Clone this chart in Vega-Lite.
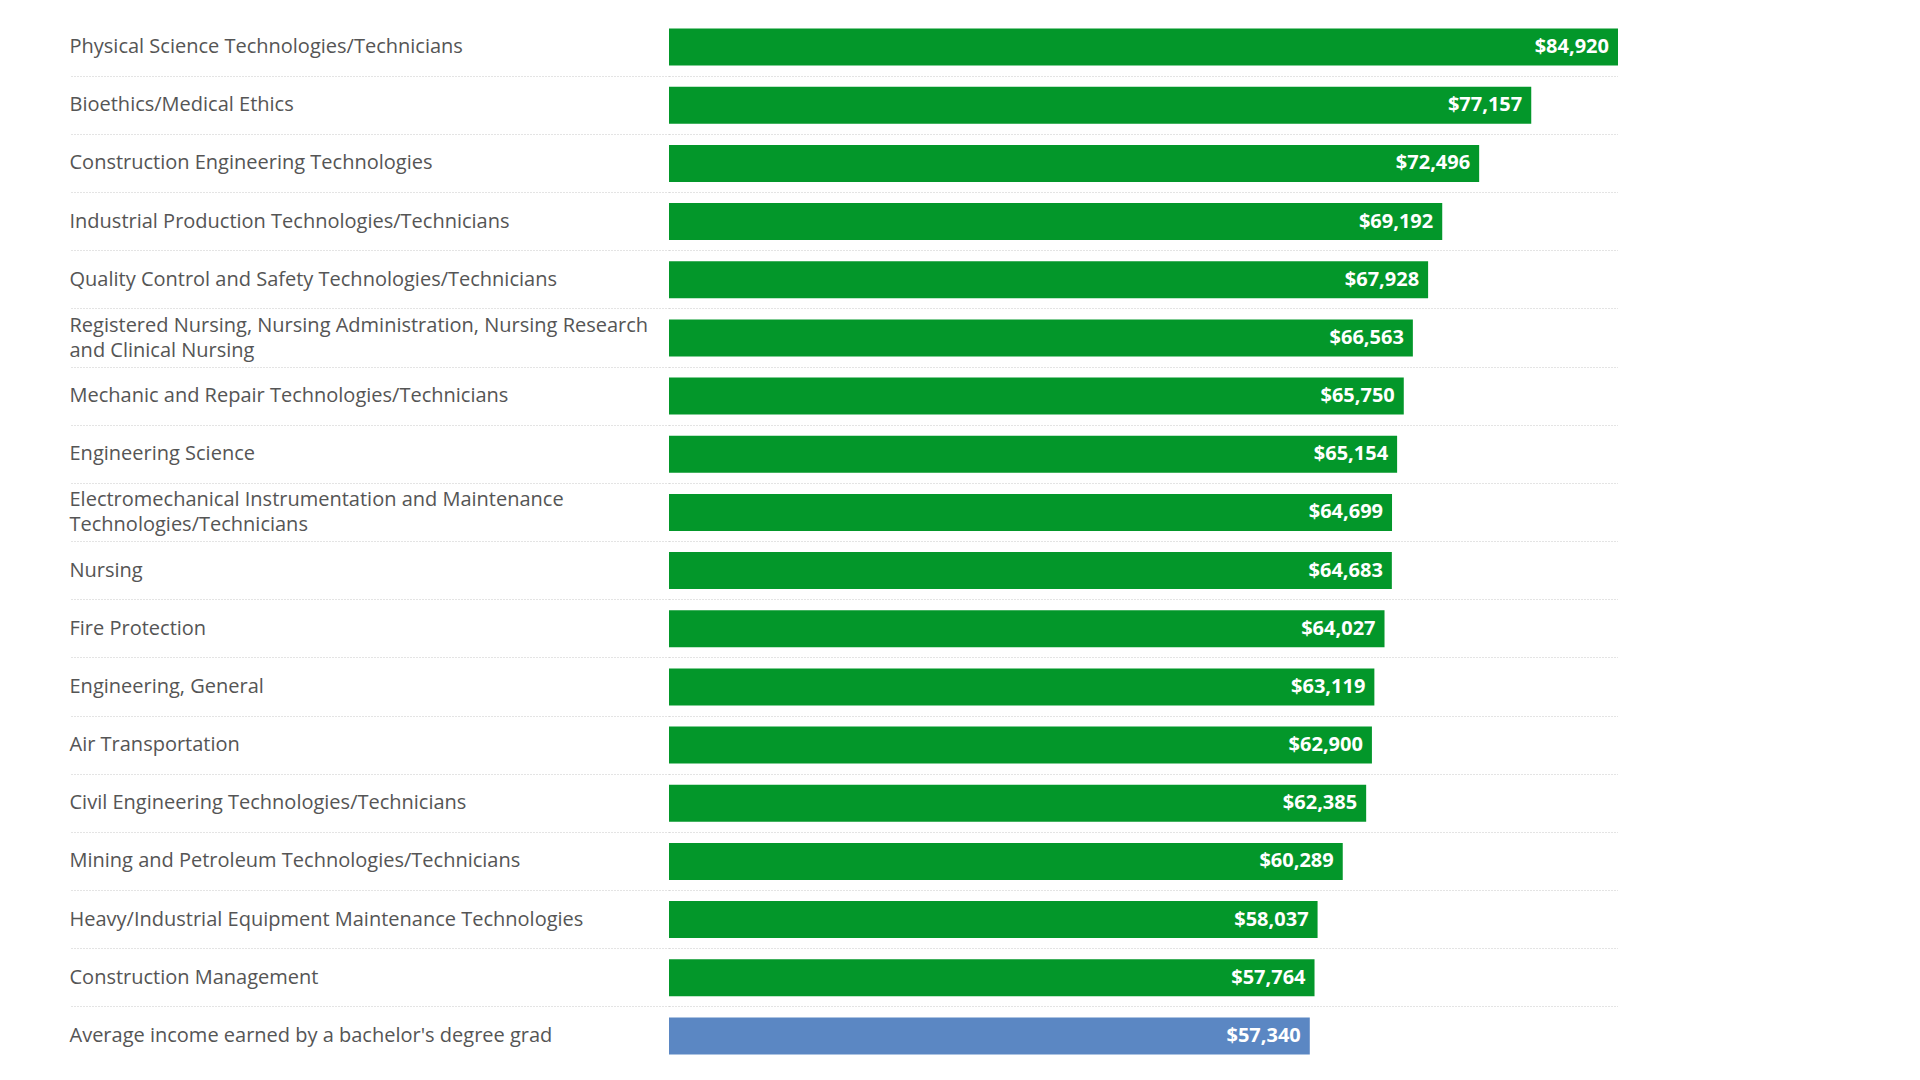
{
  "$schema": "https://vega.github.io/schema/vega-lite/v6.json",
  "width": 949,
  "height": 1047,
  "autosize": {"type": "none"},
  "padding": {"left": 669, "top": 18, "right": 0, "bottom": 0},
  "background": "white",
  "config": {"view": {"stroke": null}},
  "data": {
    "values": [
      {"major": "Physical Science Technologies/Technicians", "salary": 84920, "group": "major"},
      {"major": "Bioethics/Medical Ethics", "salary": 77157, "group": "major"},
      {"major": "Construction Engineering Technologies", "salary": 72496, "group": "major"},
      {"major": "Industrial Production Technologies/Technicians", "salary": 69192, "group": "major"},
      {"major": "Quality Control and Safety Technologies/Technicians", "salary": 67928, "group": "major"},
      {"major": "Registered Nursing, Nursing Administration, Nursing Research and Clinical Nursing", "salary": 66563, "group": "major"},
      {"major": "Mechanic and Repair Technologies/Technicians", "salary": 65750, "group": "major"},
      {"major": "Engineering Science", "salary": 65154, "group": "major"},
      {"major": "Electromechanical Instrumentation and Maintenance Technologies/Technicians", "salary": 64699, "group": "major"},
      {"major": "Nursing", "salary": 64683, "group": "major"},
      {"major": "Fire Protection", "salary": 64027, "group": "major"},
      {"major": "Engineering, General", "salary": 63119, "group": "major"},
      {"major": "Air Transportation", "salary": 62900, "group": "major"},
      {"major": "Civil Engineering Technologies/Technicians", "salary": 62385, "group": "major"},
      {"major": "Mining and Petroleum Technologies/Technicians", "salary": 60289, "group": "major"},
      {"major": "Heavy/Industrial Equipment Maintenance Technologies", "salary": 58037, "group": "major"},
      {"major": "Construction Management", "salary": 57764, "group": "major"},
      {"major": "Average income earned by a bachelor's degree grad", "salary": 57340, "group": "average"}
    ]
  },
  "encoding": {
    "y": {
      "field": "major",
      "type": "nominal",
      "sort": null,
      "scale": {"paddingInner": 0, "paddingOuter": 0},
      "axis": {
        "title": null,
        "domain": false,
        "bandPosition": 0,
        "ticks": true,
        "tickSize": 600,
        "tickWidth": 1,
        "tickDash": [1, 2],
        "tickColor": {"condition": {"test": "datum.index == 0", "value": "transparent"}, "value": "#c8c8c8"},
        "grid": true,
        "gridWidth": 1,
        "gridDash": [1, 2],
        "gridColor": {"condition": {"test": "datum.index == 0", "value": "transparent"}, "value": "#c8c8c8"},
        "labelAlign": "left",
        "labelBaseline": "middle",
        "labelPadding": 0,
        "labelOffset": {"condition": {"test": "datum.value == 'Registered Nursing, Nursing Administration, Nursing Research and Clinical Nursing' || datum.value == 'Electromechanical Instrumentation and Maintenance Technologies/Technicians'", "value": -12}, "value": 0},
        "labelLimit": 700,
        "labelFont": "Open Sans",
        "labelFontSize": 20,
        "labelColor": "#555555",
        "labelLineHeight": 25,
        "labelExpr": "datum.value == 'Registered Nursing, Nursing Administration, Nursing Research and Clinical Nursing' ? ['Registered Nursing, Nursing Administration, Nursing Research', 'and Clinical Nursing'] : datum.value == 'Electromechanical Instrumentation and Maintenance Technologies/Technicians' ? ['Electromechanical Instrumentation and Maintenance', 'Technologies/Technicians'] : datum.value"
      }
    },
    "x": {
      "field": "salary",
      "type": "quantitative",
      "scale": {"domain": [0, 84920], "nice": false, "zero": true},
      "axis": null
    }
  },
  "layer": [
    {
      "mark": {"type": "bar", "height": {"band": 0.636}},
      "encoding": {
        "color": {
          "field": "group",
          "type": "nominal",
          "scale": {"domain": ["major", "average"], "range": ["#03972a", "#5b87c3"]},
          "legend": null
        }
      }
    },
    {
      "mark": {"type": "text", "align": "right", "baseline": "middle", "dx": -9, "color": "white", "font": "Open Sans", "fontWeight": "bold", "fontSize": 20},
      "encoding": {
        "text": {"field": "salary", "type": "quantitative", "format": "$,.0f"}
      }
    }
  ]
}
